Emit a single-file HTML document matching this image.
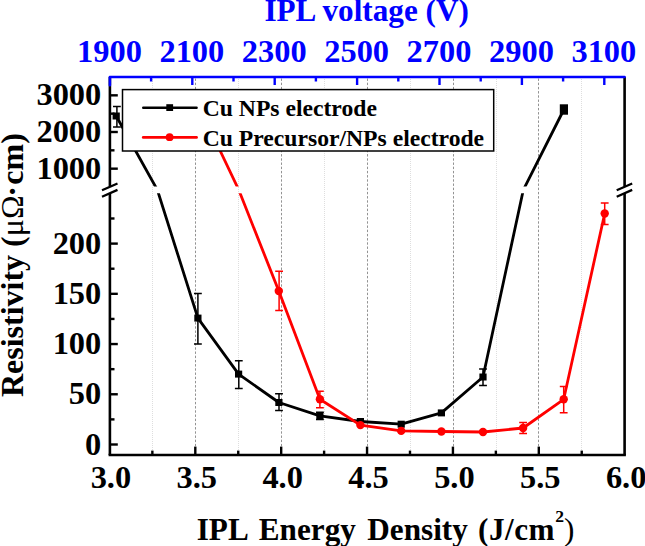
<!DOCTYPE html><html><head><meta charset="utf-8"><style>html,body{margin:0;padding:0;background:#fff;overflow:hidden}svg{display:block}text{font-family:"Liberation Serif",serif;font-weight:bold}.r{font-weight:normal}</style></head><body>
<svg width="645" height="546" viewBox="0 0 645 546">
<rect width="645" height="546" fill="#fff"/>
<line x1="152.50" y1="79" x2="152.50" y2="454.00" stroke="#dedede" stroke-width="1" stroke-dasharray="1 1"/>
<line x1="195.50" y1="78.50" x2="195.50" y2="454.00" stroke="#939393" stroke-width="1" stroke-dasharray="2.4 1.8"/>
<line x1="238.50" y1="79" x2="238.50" y2="454.00" stroke="#dedede" stroke-width="1" stroke-dasharray="1 1"/>
<line x1="281.50" y1="78.50" x2="281.50" y2="454.00" stroke="#939393" stroke-width="1" stroke-dasharray="2.4 1.8"/>
<line x1="324.50" y1="79" x2="324.50" y2="454.00" stroke="#dedede" stroke-width="1" stroke-dasharray="1 1"/>
<line x1="367.50" y1="78.50" x2="367.50" y2="454.00" stroke="#939393" stroke-width="1" stroke-dasharray="2.4 1.8"/>
<line x1="410.50" y1="79" x2="410.50" y2="454.00" stroke="#dedede" stroke-width="1" stroke-dasharray="1 1"/>
<line x1="453.50" y1="78.50" x2="453.50" y2="454.00" stroke="#939393" stroke-width="1" stroke-dasharray="2.4 1.8"/>
<line x1="496.50" y1="79" x2="496.50" y2="454.00" stroke="#dedede" stroke-width="1" stroke-dasharray="1 1"/>
<line x1="538.50" y1="78.50" x2="538.50" y2="454.00" stroke="#939393" stroke-width="1" stroke-dasharray="2.4 1.8"/>
<line x1="581.50" y1="79" x2="581.50" y2="454.00" stroke="#dedede" stroke-width="1" stroke-dasharray="1 1"/>
<defs><clipPath id="cu"><rect x="109.9" y="77.0" width="514.7" height="109.5"/></clipPath><clipPath id="cl"><rect x="109.9" y="193.2" width="514.7" height="261.8"/></clipPath></defs>
<path d="M116.9,106.6V127.0M113.0,106.6H120.8M113.0,127.0H120.8" stroke="#000" stroke-width="1.5" fill="none"/><path d="M197.9,293.6V343.9M194.0,293.6H201.8M194.0,343.9H201.8" stroke="#000" stroke-width="1.5" fill="none"/><path d="M238.8,360.7V388.5M234.9,360.7H242.7M234.9,388.5H242.7" stroke="#000" stroke-width="1.5" fill="none"/><path d="M279.0,393.8V410.4M275.1,393.8H282.9M275.1,410.4H282.9" stroke="#000" stroke-width="1.5" fill="none"/><path d="M319.9,412.3V419.5M316.0,412.3H323.8M316.0,419.5H323.8" stroke="#000" stroke-width="1.5" fill="none"/><path d="M483.0,369.1V385.4M479.1,369.1H486.9M479.1,385.4H486.9" stroke="#000" stroke-width="1.5" fill="none"/>
<polyline points="116.2,116.0 157.4,190.0 197.9,318.1 238.6,374.1 278.9,402.5 319.9,415.9 360.4,421.5 401.2,424.2 441.4,412.9 483.0,377.0 523.3,190.0 563.9,109.5" fill="none" stroke="#000" stroke-width="2.8" stroke-linejoin="round" clip-path="url(#cu)"/>
<polyline points="116.2,116.0 157.4,190.0 197.9,318.1 238.6,374.1 278.9,402.5 319.9,415.9 360.4,421.5 401.2,424.2 441.4,412.9 483.0,377.0 523.3,190.0 563.9,109.5" fill="none" stroke="#000" stroke-width="2.8" stroke-linejoin="round" clip-path="url(#cl)"/>
<rect x="112.6" y="112.5" width="7.2" height="7.0" fill="#000"/>
<rect x="194.3" y="314.6" width="7.2" height="7.0" fill="#000"/>
<rect x="235.0" y="370.6" width="7.2" height="7.0" fill="#000"/>
<rect x="275.3" y="399.0" width="7.2" height="7.0" fill="#000"/>
<rect x="316.3" y="412.4" width="7.2" height="7.0" fill="#000"/>
<rect x="356.8" y="418.0" width="7.2" height="7.0" fill="#000"/>
<rect x="397.6" y="420.7" width="7.2" height="7.0" fill="#000"/>
<rect x="437.8" y="409.4" width="7.2" height="7.0" fill="#000"/>
<rect x="479.4" y="373.5" width="7.2" height="7.0" fill="#000"/>
<rect x="559.8" y="104.3" width="8.2" height="10.4" fill="#000"/>
<path d="M279.1,271.2V310.5M275.2,271.2H283.0M275.2,310.5H283.0" stroke="#ff0000" stroke-width="1.5" fill="none"/><path d="M319.9,391.2V407.7M316.0,391.2H323.8M316.0,407.7H323.8" stroke="#ff0000" stroke-width="1.5" fill="none"/><path d="M523.1,422.6V433.4M519.2,422.6H527.0M519.2,433.4H527.0" stroke="#ff0000" stroke-width="1.5" fill="none"/><path d="M563.7,386.4V412.7M559.8,386.4H567.6M559.8,412.7H567.6" stroke="#ff0000" stroke-width="1.5" fill="none"/><path d="M604.7,203.0V224.6M600.8,203.0H608.6M600.8,224.6H608.6" stroke="#ff0000" stroke-width="1.5" fill="none"/>
<polyline points="197.9,104.0 238.8,190.0 278.8,291.0 319.9,399.3 360.4,425.1 401.2,430.9 441.4,431.5 483.0,432.0 523.1,428.0 563.7,399.3 604.7,213.5" fill="none" stroke="#ff0000" stroke-width="2.8" stroke-linejoin="round" clip-path="url(#cu)"/>
<polyline points="197.9,104.0 238.8,190.0 278.8,291.0 319.9,399.3 360.4,425.1 401.2,430.9 441.4,431.5 483.0,432.0 523.1,428.0 563.7,399.3 604.7,213.5" fill="none" stroke="#ff0000" stroke-width="2.8" stroke-linejoin="round" clip-path="url(#cl)"/>
<circle cx="278.8" cy="291.0" r="4.2" fill="#ff0000"/>
<circle cx="319.9" cy="399.3" r="4.2" fill="#ff0000"/>
<circle cx="360.4" cy="425.1" r="4.2" fill="#ff0000"/>
<circle cx="401.2" cy="430.9" r="4.2" fill="#ff0000"/>
<circle cx="441.4" cy="431.5" r="4.2" fill="#ff0000"/>
<circle cx="483.0" cy="432.0" r="4.2" fill="#ff0000"/>
<circle cx="523.1" cy="428.0" r="4.2" fill="#ff0000"/>
<circle cx="563.7" cy="399.3" r="4.2" fill="#ff0000"/>
<circle cx="604.7" cy="213.5" r="4.2" fill="#ff0000"/>
<path d="M108.60000000000001,455.0H625.9" stroke="#000" stroke-width="2.6"/>
<path d="M109.9,186.5V77.0 M109.9,193.2V455.0" stroke="#000" stroke-width="2.6"/>
<path d="M624.6,186.5V77.0 M624.6,193.2V455.0" stroke="#000" stroke-width="2.6"/>
<path d="M109.9,85.2V77.0H624.6" stroke="#0000ff" stroke-width="2.6" fill="none" stroke-linecap="round" stroke-linejoin="round"/>
<line x1="152.36" y1="455.0" x2="152.36" y2="450.6" stroke="#000" stroke-width="2.4"/>
<line x1="195.30" y1="455.0" x2="195.30" y2="446.6" stroke="#000" stroke-width="2.4"/>
<line x1="238.24" y1="455.0" x2="238.24" y2="450.6" stroke="#000" stroke-width="2.4"/>
<line x1="281.18" y1="455.0" x2="281.18" y2="446.6" stroke="#000" stroke-width="2.4"/>
<line x1="324.11" y1="455.0" x2="324.11" y2="450.6" stroke="#000" stroke-width="2.4"/>
<line x1="367.05" y1="455.0" x2="367.05" y2="446.6" stroke="#000" stroke-width="2.4"/>
<line x1="409.99" y1="455.0" x2="409.99" y2="450.6" stroke="#000" stroke-width="2.4"/>
<line x1="452.93" y1="455.0" x2="452.93" y2="446.6" stroke="#000" stroke-width="2.4"/>
<line x1="495.86" y1="455.0" x2="495.86" y2="450.6" stroke="#000" stroke-width="2.4"/>
<line x1="538.80" y1="455.0" x2="538.80" y2="446.6" stroke="#000" stroke-width="2.4"/>
<line x1="581.74" y1="455.0" x2="581.74" y2="450.6" stroke="#000" stroke-width="2.4"/>
<line x1="151.10" y1="77.0" x2="151.10" y2="81.5" stroke="#0000ff" stroke-width="2.4"/>
<line x1="192.30" y1="77.0" x2="192.30" y2="85.0" stroke="#0000ff" stroke-width="2.4"/>
<line x1="233.50" y1="77.0" x2="233.50" y2="81.5" stroke="#0000ff" stroke-width="2.4"/>
<line x1="274.70" y1="77.0" x2="274.70" y2="85.0" stroke="#0000ff" stroke-width="2.4"/>
<line x1="315.90" y1="77.0" x2="315.90" y2="81.5" stroke="#0000ff" stroke-width="2.4"/>
<line x1="357.10" y1="77.0" x2="357.10" y2="85.0" stroke="#0000ff" stroke-width="2.4"/>
<line x1="398.30" y1="77.0" x2="398.30" y2="81.5" stroke="#0000ff" stroke-width="2.4"/>
<line x1="439.50" y1="77.0" x2="439.50" y2="85.0" stroke="#0000ff" stroke-width="2.4"/>
<line x1="480.70" y1="77.0" x2="480.70" y2="81.5" stroke="#0000ff" stroke-width="2.4"/>
<line x1="521.90" y1="77.0" x2="521.90" y2="85.0" stroke="#0000ff" stroke-width="2.4"/>
<line x1="563.10" y1="77.0" x2="563.10" y2="81.5" stroke="#0000ff" stroke-width="2.4"/>
<line x1="604.30" y1="77.0" x2="604.30" y2="85.0" stroke="#0000ff" stroke-width="2.4"/>
<line x1="109.9" y1="168.67" x2="117.8" y2="168.67" stroke="#000" stroke-width="2.4"/>
<line x1="109.9" y1="132.00" x2="117.8" y2="132.00" stroke="#000" stroke-width="2.4"/>
<line x1="109.9" y1="95.33" x2="117.8" y2="95.33" stroke="#000" stroke-width="2.4"/>
<line x1="109.9" y1="150.33" x2="114.5" y2="150.33" stroke="#000" stroke-width="2.4"/>
<line x1="109.9" y1="113.67" x2="114.5" y2="113.67" stroke="#000" stroke-width="2.4"/>
<line x1="109.9" y1="444.50" x2="117.8" y2="444.50" stroke="#000" stroke-width="2.4"/>
<line x1="109.9" y1="394.27" x2="117.8" y2="394.27" stroke="#000" stroke-width="2.4"/>
<line x1="109.9" y1="344.05" x2="117.8" y2="344.05" stroke="#000" stroke-width="2.4"/>
<line x1="109.9" y1="293.83" x2="117.8" y2="293.83" stroke="#000" stroke-width="2.4"/>
<line x1="109.9" y1="243.60" x2="117.8" y2="243.60" stroke="#000" stroke-width="2.4"/>
<line x1="109.9" y1="419.39" x2="114.5" y2="419.39" stroke="#000" stroke-width="2.4"/>
<line x1="109.9" y1="369.16" x2="114.5" y2="369.16" stroke="#000" stroke-width="2.4"/>
<line x1="109.9" y1="318.94" x2="114.5" y2="318.94" stroke="#000" stroke-width="2.4"/>
<line x1="109.9" y1="268.71" x2="114.5" y2="268.71" stroke="#000" stroke-width="2.4"/>
<line x1="109.9" y1="218.49" x2="114.5" y2="218.49" stroke="#000" stroke-width="2.4"/>
<path d="M102.0,190.2L117.5,183.5M102.0,196.8L117.5,189.9" stroke="#000" stroke-width="2.3"/>
<path d="M616.7,190.2L632.2,183.5M616.7,196.8L632.2,189.9" stroke="#000" stroke-width="2.3"/>
<rect x="122.5" y="89.6" width="371.2" height="61.4" fill="#fff" stroke="#000" stroke-width="1.5"/>
<line x1="143.2" y1="107.8" x2="196.6" y2="107.8" stroke="#000" stroke-width="2.4" stroke-linecap="round"/><rect x="166.3" y="104.2" width="6.8" height="6.8" fill="#000"/>
<line x1="143.2" y1="137.4" x2="196.6" y2="137.4" stroke="#ff0000" stroke-width="2.6" stroke-linecap="round"/><circle cx="169.6" cy="137.2" r="3.9" fill="#ff0000"/>
<text x="202.7" y="115.8" font-size="23.65" fill="#000">Cu NPs electrode</text>
<text x="202.7" y="145.6" font-size="23.65" fill="#000">Cu Precursor/NPs electrode</text>
<text x="264.4" y="20.6" font-size="31.2" fill="#0000ff">IPL voltage (V)</text>
<text transform="translate(109.45,62.10) scale(1.03,1)" font-size="31.5" fill="#0000ff" text-anchor="middle">1900</text>
<text transform="translate(191.85,62.10) scale(1.03,1)" font-size="31.5" fill="#0000ff" text-anchor="middle">2100</text>
<text transform="translate(274.25,62.10) scale(1.03,1)" font-size="31.5" fill="#0000ff" text-anchor="middle">2300</text>
<text transform="translate(356.65,62.10) scale(1.03,1)" font-size="31.5" fill="#0000ff" text-anchor="middle">2500</text>
<text transform="translate(439.05,62.10) scale(1.03,1)" font-size="31.5" fill="#0000ff" text-anchor="middle">2700</text>
<text transform="translate(521.45,62.10) scale(1.03,1)" font-size="31.5" fill="#0000ff" text-anchor="middle">2900</text>
<text transform="translate(603.85,62.10) scale(1.03,1)" font-size="31.5" fill="#0000ff" text-anchor="middle">3100</text>
<text transform="translate(101.30,178.67) scale(1.03,1)" font-size="31.5" fill="#000" text-anchor="end">1000</text>
<text transform="translate(101.30,142.00) scale(1.03,1)" font-size="31.5" fill="#000" text-anchor="end">2000</text>
<text transform="translate(101.30,105.33) scale(1.03,1)" font-size="31.5" fill="#000" text-anchor="end">3000</text>
<text transform="translate(101.30,454.50) scale(1.03,1)" font-size="31.5" fill="#000" text-anchor="end">0</text>
<text transform="translate(101.30,404.27) scale(1.03,1)" font-size="31.5" fill="#000" text-anchor="end">50</text>
<text transform="translate(101.30,354.05) scale(1.03,1)" font-size="31.5" fill="#000" text-anchor="end">100</text>
<text transform="translate(101.30,303.83) scale(1.03,1)" font-size="31.5" fill="#000" text-anchor="end">150</text>
<text transform="translate(101.30,253.60) scale(1.03,1)" font-size="31.5" fill="#000" text-anchor="end">200</text>
<text transform="translate(110.93,487.80) scale(1.03,1)" font-size="31.5" fill="#000" text-anchor="middle">3.0</text>
<text transform="translate(196.80,487.80) scale(1.03,1)" font-size="31.5" fill="#000" text-anchor="middle">3.5</text>
<text transform="translate(282.68,487.80) scale(1.03,1)" font-size="31.5" fill="#000" text-anchor="middle">4.0</text>
<text transform="translate(368.55,487.80) scale(1.03,1)" font-size="31.5" fill="#000" text-anchor="middle">4.5</text>
<text transform="translate(454.43,487.80) scale(1.03,1)" font-size="31.5" fill="#000" text-anchor="middle">5.0</text>
<text transform="translate(540.30,487.80) scale(1.03,1)" font-size="31.5" fill="#000" text-anchor="middle">5.5</text>
<text transform="translate(626.17,487.80) scale(1.03,1)" font-size="31.5" fill="#000" text-anchor="middle">6.0</text>
<text y="539.8" font-size="31.2" fill="#000"><tspan x="196.7">IPL</tspan><tspan x="258.8">Energy</tspan><tspan x="367.3">Density</tspan><tspan x="478.0" letter-spacing="0.5">(J/cm</tspan></text>
<text x="555.2" y="522.2" font-size="17.6" fill="#000">2</text>
<text class="r" x="563.9" y="539.8" font-size="31.2" fill="#000">)</text>
<text transform="translate(22.6,397.1) rotate(-90)" font-size="32" fill="#000">Resistivity (<tspan class="r">μΩ</tspan><tspan dx="-1.5">·</tspan><tspan dx="1.5">cm)</tspan></text>
</svg></body></html>
